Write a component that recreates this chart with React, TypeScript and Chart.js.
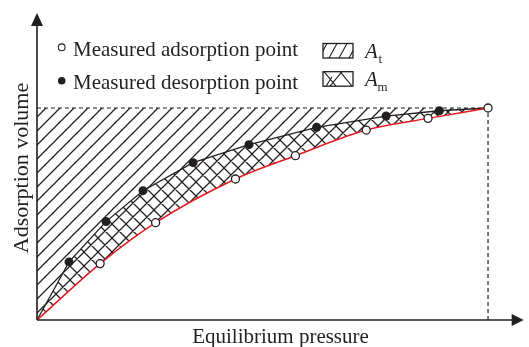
import React, { useEffect, useRef } from "react";
import { Chart, registerables } from "chart.js";

Chart.register(...registerables);

// Measured adsorption points (open circles, red curve)
const adsorptionX = [0.14, 0.263, 0.44, 0.573, 0.73, 0.867, 1.0];
const adsorptionY = [0.266, 0.459, 0.665, 0.775, 0.896, 0.951, 1.0];
// Measured desorption points (filled circles, black curve)
const desorptionX = [0.071, 0.153, 0.235, 0.346, 0.47, 0.62, 0.774, 0.892];
const desorptionY = [0.274, 0.464, 0.61, 0.742, 0.827, 0.909, 0.962, 0.987];
// Curves
const adsorptionCurveX = [0, ...adsorptionX];
const adsorptionCurveY = [0, ...adsorptionY];
const desorptionCurveX = [0, 0.036, ...desorptionX, 1.0];
const desorptionCurveY = [0, 0.138, ...desorptionY, 1.0];
// Saturation guide lines
const saturationX = [0, 1];
const saturationY = [1, 1];
const verticalX = [1, 1];
const verticalY = [0, 1];

const legendLabels = ["Measured adsorption point", "Measured desorption point"];
const areaLabels = ["t", "m"];
const xTitle = "Equilibrium pressure";
const yTitle = "Adsorption volume";

const INK = "#231f20";
const RED = "#e8191e";
const FONT = "'Liberation Serif', 'Times New Roman', serif";

function toPoints(xs: number[], ys: number[]) {
  return xs.map((x, i) => ({ x, y: ys[i] }));
}

function makePattern(cross: boolean): CanvasPattern | string {
  const s = 14;
  const c = document.createElement("canvas");
  c.width = s;
  c.height = s;
  const g = c.getContext("2d");
  if (!g) return "transparent";
  g.strokeStyle = INK;
  g.lineWidth = 1.25;
  g.beginPath();
  for (const k of [-s, 0, s]) {
    g.moveTo(k - 2, s + 2);
    g.lineTo(k + s + 2, -2);
    if (cross) {
      g.moveTo(k - 2, -2);
      g.lineTo(k + s + 2, s + 2);
    }
  }
  g.stroke();
  const p = g.createPattern(c, "repeat");
  return p || "transparent";
}

const decorPlugin = {
  id: "decor",
  afterDraw(chart: any) {
    const ctx = chart.ctx as CanvasRenderingContext2D;
    const xs = chart.scales.x;
    const ys = chart.scales.y;
    const area = chart.chartArea;
    const ox = xs.getPixelForValue(0);
    const oy = ys.getPixelForValue(0);
    ctx.save();
    // axes
    ctx.strokeStyle = INK;
    ctx.fillStyle = INK;
    ctx.lineWidth = 1.6;
    ctx.beginPath();
    ctx.moveTo(ox, oy);
    ctx.lineTo(area.right - 6, oy);
    ctx.moveTo(ox, oy);
    ctx.lineTo(ox, area.top + 6);
    ctx.stroke();
    // arrow heads
    ctx.beginPath();
    ctx.moveTo(area.right, oy);
    ctx.lineTo(area.right - 12, oy - 6);
    ctx.lineTo(area.right - 12, oy + 6);
    ctx.closePath();
    ctx.fill();
    ctx.beginPath();
    ctx.moveTo(ox, area.top);
    ctx.lineTo(ox - 6, area.top + 13);
    ctx.lineTo(ox + 6, area.top + 13);
    ctx.closePath();
    ctx.fill();

    // axis titles
    ctx.font = `21px ${FONT}`;
    ctx.textAlign = "center";
    ctx.textBaseline = "alphabetic";
    ctx.fillText(xTitle, 280.5, 343);
    ctx.save();
    ctx.translate(28, 168);
    ctx.rotate(-Math.PI / 2);
    ctx.font = `22px ${FONT}`;
    ctx.fillText(yTitle, 0, 0);
    ctx.restore();

    // legend: markers
    ctx.lineWidth = 1.1;
    ctx.beginPath();
    ctx.arc(61.7, 47.3, 3.4, 0, Math.PI * 2);
    ctx.fillStyle = "#fff";
    ctx.fill();
    ctx.stroke();
    ctx.beginPath();
    ctx.arc(61.7, 80.7, 3.8, 0, Math.PI * 2);
    ctx.fillStyle = INK;
    ctx.fill();
    ctx.textAlign = "left";
    ctx.fillText(legendLabels[0], 73, 56);
    ctx.fillText(legendLabels[1], 73, 89);

    // legend: hatch boxes
    const bx = 323, bw = 30, bh = 14.5;
    const boxes = [43.5, 71.7];
    ctx.lineWidth = 1.3;
    boxes.forEach((by, i) => {
      ctx.save();
      ctx.beginPath();
      ctx.rect(bx, by, bw, bh);
      ctx.clip();
      ctx.lineWidth = 1.1;
      ctx.beginPath();
      if (i === 0) {
        for (let k = 0; k < 4; k++) {
          const x0 = bx - 4 + k * 10;
          ctx.moveTo(x0, by + bh);
          ctx.lineTo(x0 + 8, by);
        }
      } else {
        ctx.moveTo(bx + 1, by);
        ctx.lineTo(bx + 13, by + bh);
        ctx.moveTo(bx + 7, by + bh);
        ctx.lineTo(bx + 19, by);
        ctx.moveTo(bx + 17, by);
        ctx.lineTo(bx + 29, by + bh);
        ctx.moveTo(bx + 3, by + bh);
        ctx.lineTo(bx + 9, by + 5);
      }
      ctx.stroke();
      ctx.restore();
      ctx.lineWidth = 1.3;
      ctx.strokeRect(bx, by, bw, bh);
    });
    ctx.fillStyle = INK;
    ctx.font = `italic 21px ${FONT}`;
    ctx.fillText("A", 365, 58.3);
    ctx.fillText("A", 365, 86);
    ctx.font = `13px ${FONT}`;
    ctx.fillText(areaLabels[0], 378.5, 63);
    ctx.fillText(areaLabels[1], 377.5, 91);
    ctx.restore();
  },
};

export default function App() {
  const ref = useRef<HTMLCanvasElement | null>(null);
  useEffect(() => {
    if (!ref.current) return;
    const diag = makePattern(false);
    const cross = makePattern(true);
    const chart = new Chart(ref.current, {
      type: "scatter",
      data: {
        datasets: [
          {
            label: "adsorption points",
            data: toPoints(adsorptionX, adsorptionY),
            showLine: false,
            pointRadius: 4,
            pointBackgroundColor: "#ffffff",
            pointBorderColor: INK,
            pointBorderWidth: 1.3,
            clip: false,
          } as any,
          {
            label: "desorption points",
            data: toPoints(desorptionX, desorptionY),
            showLine: false,
            pointRadius: 4.5,
            pointBackgroundColor: INK,
            pointBorderColor: INK,
            pointBorderWidth: 0,
            clip: false,
          },
          {
            label: "adsorption curve",
            data: toPoints(adsorptionCurveX, adsorptionCurveY),
            showLine: true,
            borderColor: RED,
            borderWidth: 1.5,
            pointRadius: 0,
            cubicInterpolationMode: "monotone",
            fill: false,
          },
          {
            label: "desorption curve",
            data: toPoints(desorptionCurveX, desorptionCurveY),
            showLine: true,
            borderColor: INK,
            borderWidth: 1.3,
            pointRadius: 0,
            tension: 0,
            fill: { target: 2 },
            backgroundColor: cross as any,
          },
          {
            label: "saturation",
            data: toPoints(saturationX, saturationY),
            showLine: true,
            borderColor: INK,
            borderWidth: 1.2,
            borderDash: [4, 3],
            pointRadius: 0,
            fill: { target: 3 },
            backgroundColor: diag as any,
          },
          {
            label: "vertical",
            data: toPoints(verticalX, verticalY),
            showLine: true,
            borderColor: INK,
            borderWidth: 1.2,
            borderDash: [4, 3],
            pointRadius: 0,
            fill: false,
          },
        ],
      },
      options: {
        responsive: false,
        animation: false,
        layout: { padding: { left: 37, top: 13, right: 1, bottom: 27 } },
        scales: {
          x: { type: "linear", min: 0, max: 1.0791, display: false },
          y: { type: "linear", min: 0, max: 1.448, display: false },
        },
        plugins: {
          legend: { display: false },
          tooltip: { enabled: false },
          filler: { drawTime: "beforeDatasetsDraw" },
        } as any,
        events: [],
      },
      plugins: [decorPlugin],
    });
    return () => chart.destroy();
  }, []);
  return (
    <div style={{ position: "fixed", left: 0, top: 0, width: 529, height: 347, background: "#fff" }}>
      <canvas ref={ref} width={529} height={347} style={{ display: "block" }} />
    </div>
  );
}
